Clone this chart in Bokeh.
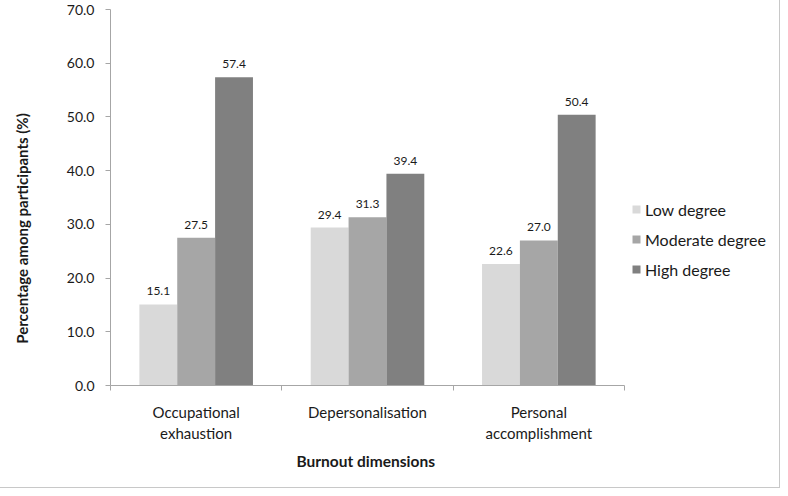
from bokeh.plotting import figure
from bokeh.models import (ColumnDataSource, Range1d, FixedTicker, NumeralTickFormatter,
                          Legend, LegendItem, Title)
from bokeh.transform import dodge
from bokeh.embed import file_html
from bokeh.resources import INLINE

# ---- data ----
categories = ["Occupational\nexhaustion", "Depersonalisation", "Personal\naccomplishment"]
series_names = ["Low degree", "Moderate degree", "High degree"]
low = [15.1, 29.4, 22.6]
moderate = [27.5, 31.3, 27.0]
high = [57.4, 39.4, 50.4]
y_ticks = [0, 10, 20, 30, 40, 50, 60, 70]

colors = ["#d9d9d9", "#a6a6a6", "#808080"]
FONT = "Lato"
TXT = "#1a1a1a"
AXC = "#a6a6a6"

W, H = 772, 480
LEFT, TOP, BOTTOM = 110, 9, 95
DATA_W = 514                      # width in px of the category area
FRAME_W = W - LEFT                # frame extends to the right edge (legend lives there)
ncat = len(categories)

centers = [i + 0.5 for i in range(ncat)]
src = ColumnDataSource(dict(
    x=centers,
    low=low, moderate=moderate, high=high,
    low_t=[f"{v:.1f}" for v in low],
    moderate_t=[f"{v:.1f}" for v in moderate],
    high_t=[f"{v:.1f}" for v in high],
))

p = figure(width=W, height=H, output_backend="svg", toolbar_location=None,
           x_range=Range1d(0, ncat * FRAME_W / DATA_W), y_range=Range1d(0, 70),
           styles={"outline": "1px solid #c8c8c8", "outline-offset": "7px"})
p.min_border_left = LEFT
p.min_border_right = 0
p.min_border_top = TOP
p.min_border_bottom = BOTTOM
p.outline_line_color = None
p.xgrid.visible = False
p.ygrid.visible = False
p.background_fill_color = "white"
p.border_fill_color = "white"

bw = 0.221
offsets = [-bw, 0.0, bw]
keys = ["low", "moderate", "high"]
renderers = []
for k, off, c in zip(keys, offsets, colors):
    r = p.vbar(x=dodge("x", off, range=p.x_range), top=k, width=bw, bottom=0,
               source=src, fill_color=c, line_color=None)
    renderers.append(r)
    p.text(x=dodge("x", off, range=p.x_range), y=k, text=k + "_t", source=src,
           text_align="center", text_baseline="bottom", y_offset=-9,
           text_font={"value": FONT}, text_font_size="12px", text_color=TXT)

# y axis
ya = p.yaxis[0]
ya.ticker = FixedTicker(ticks=y_ticks)
ya.formatter = NumeralTickFormatter(format="0.0")
ya.axis_label = "Percentage among participants  (%)" + "\u00a0" * 16
ya.axis_label_text_font = FONT
ya.axis_label_text_font_style = "bold"
ya.axis_label_text_font_size = "15px"
ya.axis_label_text_color = TXT
ya.axis_label_standoff = 33
ya.major_label_text_font = FONT
ya.major_label_text_font_size = "14px"
ya.major_label_text_color = TXT
ya.major_label_standoff = 11
ya.axis_line_color = AXC
ya.major_tick_line_color = AXC
ya.major_tick_out = 5
ya.major_tick_in = 0
ya.minor_tick_line_color = None

# x axis
xa = p.xaxis[0]
xa.bounds = (0, ncat)
xa.ticker = FixedTicker(ticks=centers, minor_ticks=list(range(ncat + 1)))
xa.major_label_overrides = {c: lab for c, lab in zip(centers, categories)}
xa.major_label_text_font = FONT
xa.major_label_text_font_size = "15px"
xa.major_label_text_color = TXT
xa.major_label_standoff = 12
xa.axis_line_color = AXC
xa.major_tick_line_color = None
xa.major_tick_out = 0
xa.major_tick_in = 0
xa.minor_tick_line_color = AXC
xa.minor_tick_out = 5
xa.minor_tick_in = 0

# x axis title, centred under the category area
xtitle = Title(text="Burnout dimensions", align="left", offset=186, standoff=8,
               text_font=FONT, text_font_style="bold", text_font_size="15.5px",
               text_color=TXT)
p.add_layout(xtitle, "below")

legend = Legend(items=[LegendItem(label=n, renderers=[r]) for n, r in zip(series_names, renderers)],
                location=(521, 106))
legend.border_line_color = None
legend.background_fill_alpha = 0
legend.padding = 0
legend.margin = 0
legend.spacing = 10
legend.glyph_width = 10
legend.glyph_height = 10
legend.label_height = 20
legend.label_standoff = 4
legend.label_text_font = FONT
legend.label_text_font_size = "16px"
legend.label_text_color = TXT
p.add_layout(legend)

open("out.html", "w").write(file_html(p, INLINE))
